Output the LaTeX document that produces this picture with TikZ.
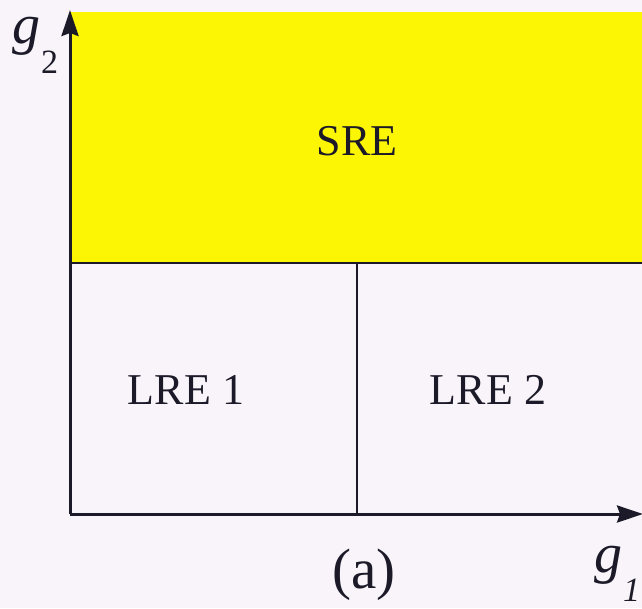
\documentclass[tikz,border=0pt]{standalone}
\usepackage{fontspec}
\setmainfont{Liberation Serif}
\usetikzlibrary{arrows.meta}
\definecolor{paper}{RGB}{248,244,249}
\definecolor{sreyellow}{RGB}{252,246,4}
\definecolor{ink}{RGB}{28,26,40}
\tikzset{
  axis/.style={line width=3pt, draw=ink, -{Stealth[length=26pt,width=17pt,inset=3pt]}},
  divider/.style={line width=2.2pt, draw=ink},
  region/.style={font=\fontsize{44}{50}\selectfont, text=ink, inner sep=0pt, anchor=base},
  caption/.style={font=\fontsize{57}{62}\selectfont, text=ink, inner sep=0pt, anchor=base},
  axislabel/.style={font=\fontsize{56}{60}\selectfont, text=ink, inner sep=0pt, anchor=base west}
}
\begin{document}
\begin{tikzpicture}[x=1pt,y=-1pt]
  % canvas
  \fill[paper] (0,0) rectangle (642,608);
  \useasboundingbox (0,0) rectangle (642,608);
  % short-range entangled region
  \fill[sreyellow] (70,12) rectangle (642,263);
  % corner points of the axes
  \coordinate (origin) at (70,514);
  \coordinate (ytip) at (70,10);
  \coordinate (xtip) at (643,514);
  \coordinate (bl) at (70,263);
  \coordinate (br) at (642,263);
  \coordinate (dtop) at (357,263);
  \coordinate (dbot) at (357,514);
  % phase boundaries
  \draw[divider] (bl) -- (br);
  \draw[divider] (dtop) -- (dbot);
  % axes
  \draw[axis] (origin) -- (ytip);
  \draw[axis] (origin) -- (xtip);
  % region labels
  \node[region] (sre) at (357,155) {SRE};
  \node[region] (lre1) at (186,404) {LRE 1};
  \node[region] (lre2) at (488,404) {LRE 2};
  \node[caption] (cap) at (364,588) {(a)};
  % axis labels
  \node[axislabel] (g2) at (12,43) {\textit{g}\kern1pt\raisebox{-30pt}{\fontsize{34}{34}\selectfont 2}};
  \node[axislabel] (g1) at (594,572) {\textit{g}\kern1pt\raisebox{-29pt}{\fontsize{34}{34}\selectfont\itshape 1}};
\end{tikzpicture}
\end{document}
